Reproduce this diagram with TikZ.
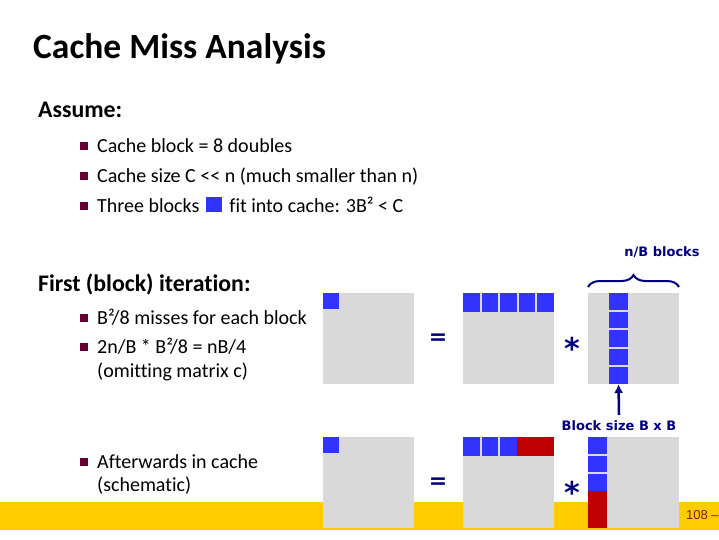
\documentclass[tikz,border=0pt]{standalone}
\usepackage{fontspec}
\setmainfont{Carlito}[Ligatures=NoCommon]
\newfontfamily\figfont{DejaVu Sans}
\newfontfamily\pagefont{Liberation Sans}
\usetikzlibrary{
  arrows.meta,
  positioning,
  decorations.pathreplacing,
}
\definecolor{bulletMaroon}{HTML}{660033}
\definecolor{blockBlue}{HTML}{3333FF}
\definecolor{blockRed}{HTML}{C00000}
\definecolor{matGray}{HTML}{D9D9D9}
\definecolor{navy}{HTML}{000080}
\definecolor{footYellow}{HTML}{FFCC00}
\definecolor{pageNum}{HTML}{7F1F00}
\tikzset{
  titletext/.style={
    anchor=base west, inner sep=0pt, font=\fontsize{35.5}{40}\selectfont\bfseries,
  },
  headtext/.style={
    anchor=base west, inner sep=0pt, font=\fontsize{23.8}{28}\selectfont\bfseries,
  },
  itemtext/.style={
    anchor=base west, inner sep=0pt, font=\fontsize{20}{24}\selectfont,
  },
  bul/.style={
    rectangle, fill=bulletMaroon, minimum size=8pt, inner sep=0pt,
  },
  matbox/.style={
    rectangle, fill=matGray, minimum size=91pt, inner sep=0pt, outer sep=0pt,
    anchor=north west,
  },
  rowblk/.style={
    rectangle, fill=#1, minimum width=16.6pt, minimum height=18.5pt,
    inner sep=0pt, outer sep=0pt,
  },
  colblk/.style={
    rectangle, fill=#1, minimum width=19pt, minimum height=16.6pt,
    inner sep=0pt, outer sep=0pt,
  },
  oneblk/.style={
    rectangle, fill=blockBlue, minimum size=16pt, inner sep=0pt, outer sep=0pt,
    anchor=north west,
  },
  opsign/.style={
    text=navy, inner sep=0pt, font=\figfont\fontsize{22}{26}\selectfont\bfseries,
  },
  figlabel/.style={
    text=navy, inner sep=0pt, font=\figfont\fontsize{13}{15}\selectfont\bfseries,
  },
  arrowNavy/.style={
    -{Latex[length=9pt,width=9pt]}, line width=2.5pt, draw=navy,
  },
  braceNavy/.style={
    decorate, decoration={brace, amplitude=12pt}, line width=2pt, draw=navy,
  },
}

\begin{document}
\begin{tikzpicture}[x=1pt, y=-1pt, node distance=2pt]
\useasboundingbox[fill=white] (0,0) rectangle (719,539);

% footer bar, behind the matrices
\fill[footYellow] (0,502) rectangle (719,530);
\node[anchor=base west, inner sep=0pt, text=pageNum,
  font=\pagefont\fontsize{13}{15}\selectfont] (pgnum) at (686,519) {108 –};

\node[titletext] (title) at (33,58) {Cache Miss Analysis};

\node[headtext] (assume) at (38,117) {Assume:};
\node[bul] (b1) at (84,146) {};
\node[itemtext] (it1) at (97,152) {Cache block = 8 doubles};
\node[bul] (b2) at (84,176) {};
\node[itemtext] (it2) at (97,182) {Cache size C <\kern0pt< n (much smaller than n)};
\node[bul] (b3) at (84,206) {};
\node[itemtext] (it3) at (97,212) {Three blocks\hspace{7pt}\textcolor{blockBlue}{\rule{16pt}{15pt}}\hspace{7pt}fit into cache: 3B² < C};

\node[headtext] (first) at (38,291) {First (block) iteration:};
\node[bul] (b4) at (84,318) {};
\node[itemtext] (it4) at (97,324) {B²/8 misses for each block};
\node[bul] (b5) at (84,347) {};
\node[itemtext] (it5) at (97,353) {2n/B * B²/8 = nB/4};
\node[itemtext] (it5b) at (97,377) {(omitting matrix c)};

\node[bul] (b6) at (84,462) {};
\node[itemtext] (it6) at (97,468) {Afterwards in cache};
\node[itemtext] (it6b) at (97,491) {(schematic)};

% first iteration: c = a * b
\node[matbox] (tC) at (323,293) {};
\node[oneblk] (tc1) at (tC.north west) {};
\node[opsign] (teq) at (438,339) {=};

\node[matbox] (tA) at (463,293) {};
\node[rowblk=blockBlue, anchor=north west] (ta1) at (tA.north west) {};
\node[rowblk=blockBlue, right=of ta1] (ta2) {};
\node[rowblk=blockBlue, right=of ta2] (ta3) {};
\node[rowblk=blockBlue, right=of ta3] (ta4) {};
\node[rowblk=blockBlue, right=of ta4] (ta5) {};
\node[opsign, font=\figfont\fontsize{30}{34}\selectfont\bfseries] (tmul) at (572,348) {*};

\node[matbox] (tB) at (588,293) {};
\node[colblk=blockBlue, anchor=north west] (tb1) at ([xshift=21pt]tB.north west) {};
\node[colblk=blockBlue, below=of tb1] (tb2) {};
\node[colblk=blockBlue, below=of tb2] (tb3) {};
\node[colblk=blockBlue, below=of tb3] (tb4) {};
\node[colblk=blockBlue, below=of tb4] (tb5) {};

\draw[braceNavy] ([yshift=6pt]tB.north west) -- ([yshift=6pt]tB.north east);
\node[figlabel] (nblk) at (662,252) {n/B blocks};
\node[figlabel] (bsize) at (619,426) {Block size B x B};
\draw[arrowNavy] ([yshift=6pt]bsize.north) -- (tb5.south);

% afterwards
\node[matbox] (bC) at (323,437) {};
\node[oneblk] (bc1) at (bC.north west) {};
\node[opsign] (beq) at (438,483) {=};

\node[matbox] (bA) at (463,437) {};
\node[rowblk=blockBlue, anchor=north west] (ba1) at (bA.north west) {};
\node[rowblk=blockBlue, right=of ba1] (ba2) {};
\node[rowblk=blockBlue, right=of ba2] (ba3) {};
\node[rowblk=blockRed, right=0pt of ba3, minimum width=37.2pt] (ba4) {};
\node[opsign, font=\figfont\fontsize{30}{34}\selectfont\bfseries] (bmul) at (572,492) {*};

\node[matbox] (bB) at (588,437) {};
\node[colblk=blockBlue, anchor=north west] (bb1) at (bB.north west) {};
\node[colblk=blockBlue, below=of bb1] (bb2) {};
\node[colblk=blockBlue, below=of bb2] (bb3) {};
\node[colblk=blockRed, below=0pt of bb3, minimum height=37.2pt] (bb4) {};

\end{tikzpicture}
\end{document}
